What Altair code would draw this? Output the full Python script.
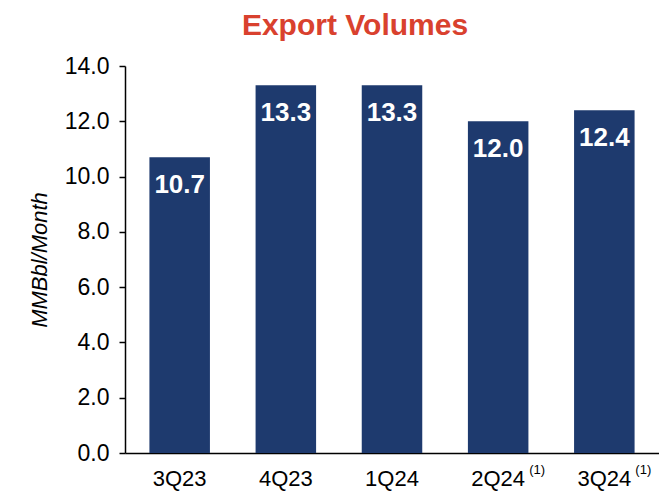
import altair as alt
import pandas as pd

quarters = ["3Q23", "4Q23", "1Q24", "2Q24", "3Q24"]
volumes = [10.7, 13.3, 13.3, 12.0, 12.4]
footnotes = ["", "", "", "(1)", "(1)"]
y_ticks = [0, 2, 4, 6, 8, 10, 12, 14]

df = pd.DataFrame({"quarter": quarters, "volume": volumes, "note": footnotes})

FONT = "Liberation Sans"
BAR = "#1E3A6E"

x_enc = alt.X(
    "quarter:N",
    sort=quarters,
    scale=alt.Scale(paddingInner=0.43, paddingOuter=0.23),
    axis=alt.Axis(
        title=None,
        labelAngle=0,
        labelFont=FONT,
        labelFontSize=22,
        labelColor="black",
        labelPadding=15,
        ticks=False,
        domainColor="black",
        domainWidth=1.5,
    ),
)

y_enc = alt.Y(
    "volume:Q",
    scale=alt.Scale(domain=[0, 14], nice=False),
    axis=alt.Axis(
        title="MMBbl/Month",
        titleFont=FONT,
        titleFontSize=22,
        titleFontStyle="italic",
        titleFontWeight="normal",
        titleColor="black",
        titlePadding=13,
        values=y_ticks,
        format=".1f",
        labelFont=FONT,
        labelFontSize=23,
        labelColor="black",
        labelPadding=10,
        tickSize=6,
        tickColor="black",
        tickWidth=1.5,
        domainColor="black",
        domainWidth=1.5,
        grid=False,
    ),
)

bars = alt.Chart(df).mark_bar(color=BAR).encode(x=x_enc, y=y_enc)

labels = alt.Chart(df).mark_text(
    color="white", font=FONT, fontSize=26, fontWeight="bold", baseline="middle", dy=28
).encode(x=alt.X("quarter:N", sort=quarters), y="volume:Q", text=alt.Text("volume:Q", format=".1f"))

notes = alt.Chart(df).mark_text(
    color="black", font=FONT, fontSize=13, align="left", baseline="middle", dx=31
).encode(x=alt.X("quarter:N", sort=quarters), y=alt.value(404), text="note:N")

chart = (
    alt.layer(bars, labels, notes)
    .properties(
        width=534,
        height=387,
        autosize=alt.AutoSizeParams(type="none"),
        padding={"left": 117, "top": 58, "right": 0, "bottom": 40},
        title=alt.TitleParams(
            "Export Volumes",
            font=FONT,
            fontSize=30,
            fontWeight="bold",
            color="#D9412E",
            anchor="middle",
            frame="group",
            offset=14,
            dx=-37,
        ),
    )
    .configure_view(stroke=None)
)

chart.save("out.html", embed_options={"renderer": "svg", "actions": False})
